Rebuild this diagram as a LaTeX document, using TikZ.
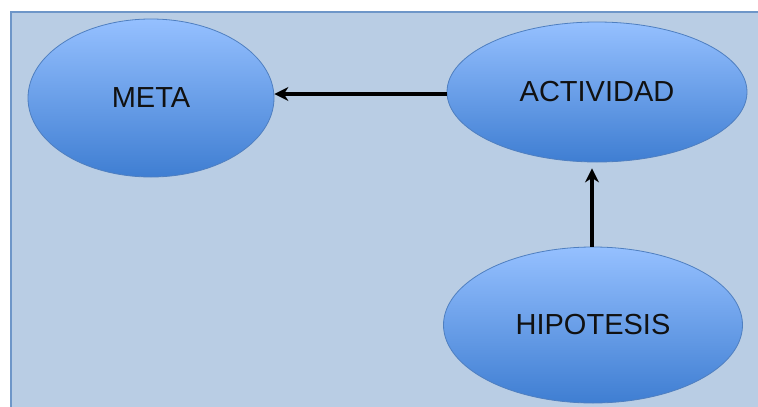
\documentclass[tikz,border=0pt]{standalone}
\usepackage{fontspec}
\setmainfont{Liberation Sans}
\usetikzlibrary{shapes.geometric,arrows.meta}
\definecolor{panelfill}{HTML}{B9CDE4}
\definecolor{panelline}{HTML}{6E96C8}
\definecolor{elltop}{HTML}{95C0FF}
\definecolor{ellbot}{HTML}{3F7ED2}
\definecolor{ellline}{HTML}{4F7FC0}
\definecolor{txt}{HTML}{111111}
\tikzset{
  bubble/.style={ellipse, draw=ellline, line width=0.8pt, top color=elltop, bottom color=ellbot,
    inner sep=0pt, font=\fontsize{29}{31}\selectfont, text=txt},
  link/.style={line width=4pt, -{Stealth[length=14pt,width=14pt]}, black}
}
\begin{document}
\begin{tikzpicture}[x=1pt,y=-1pt]
\useasboundingbox (0,0) rectangle (758,407);
\clip (0,0) rectangle (758,407);
\fill[white] (0,0) rectangle (758,407);
\draw[fill=panelfill, draw=panelline, line width=2pt] (11,12) rectangle (800,440);
\node[bubble, minimum width=246pt, minimum height=158pt] (meta) at (151,98) {META};
\node[bubble, minimum width=300pt, minimum height=140pt] (act) at (597,92) {ACTIVIDAD};
\node[bubble, minimum width=299pt, minimum height=156pt] (hip) at (593,325) {HIPOTESIS};
\draw[link] ([yshift=-2pt]act.west) -- ([yshift=-2pt]meta.east |- act.west);
\draw[link, shorten >=6pt] ([xshift=-1pt]hip.north) -- ([xshift=-1pt]hip.north |- act.south);
\end{tikzpicture}
\end{document}
